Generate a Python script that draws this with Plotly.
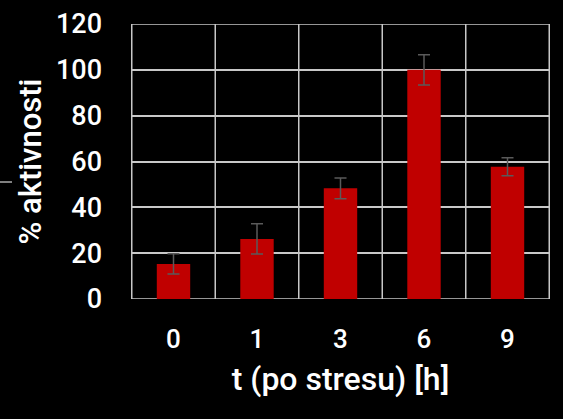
import plotly.graph_objects as go

categories = ["0", "1", "3", "6", "9"]
values = [15.3, 26.2, 48.3, 100.0, 57.7]
errors = [4.4, 6.6, 4.5, 6.6, 3.9]
y_ticks = [0, 20, 40, 60, 80, 100, 120]

FONT = "Roboto, sans-serif"

W, H = 563, 419
L, T, R, B = 131, 24, 13, 120

fig = go.Figure(go.Bar(
    x=categories, y=values,
    marker=dict(color="#C00000", line=dict(width=0)),
    error_y=dict(type="data", array=errors, color="#5a5a5a", thickness=1.5, width=6),
    width=0.4,
))

fig.update_layout(
    width=W, height=H,
    paper_bgcolor="black", plot_bgcolor="black",
    margin=dict(l=L, r=R, t=T, b=B),
    font=dict(family=FONT, color="white", size=26, weight=500),
    showlegend=False,
    xaxis=dict(
        type="category",
        automargin=False,
        showgrid=False,
        showline=False,
        ticks="",
        ticklabelstandoff=22,
        tickfont=dict(size=26, weight=500),
        title=dict(text="t (po stresu) [h]", font=dict(size=32, weight=500), standoff=14),
    ),
    yaxis=dict(
        range=[0, 120],
        automargin=False,
        tickvals=y_ticks,
        showgrid=True, gridcolor="#c8c8c8", gridwidth=1.5,
        zeroline=False,
        showline=False,
        ticks="", ticklen=0,
        ticklabelstandoff=28,
        tickfont=dict(size=27, weight=500),
        title=dict(text="% aktivnosti", font=dict(size=31, weight=500), standoff=5),
    ),
)

# vertical gridlines between categories and outer frame
for i in range(len(categories) + 1):
    fig.add_shape(type="line", xref="x", yref="paper",
                  x0=i - 0.5, x1=i - 0.5, y0=0, y1=1,
                  line=dict(color="#c8c8c8", width=1.5), layer="below")
fig.add_shape(type="line", xref="paper", yref="y", x0=0, x1=1, y0=0, y1=0,
              line=dict(color="#c8c8c8", width=1.5), layer="below")
fig.add_shape(type="line", xref="paper", yref="y", x0=0, x1=1, y0=120, y1=120,
              line=dict(color="#c8c8c8", width=1.5), layer="below")

# small stray mark at left edge
pw = W - L - R
ph = H - T - B
fig.add_shape(type="line", xref="paper", yref="paper",
              x0=-L / pw, x1=(12 - L) / pw, y0=(299 - 182) / ph, y1=(299 - 182) / ph,
              line=dict(color="white", width=1))

fig.write_html(
    "out.html",
    config={"displayModeBar": False},
    post_script="document.documentElement.style.background='black';"
                "document.body.style.background='black';"
                "document.body.style.margin='0';",
)
